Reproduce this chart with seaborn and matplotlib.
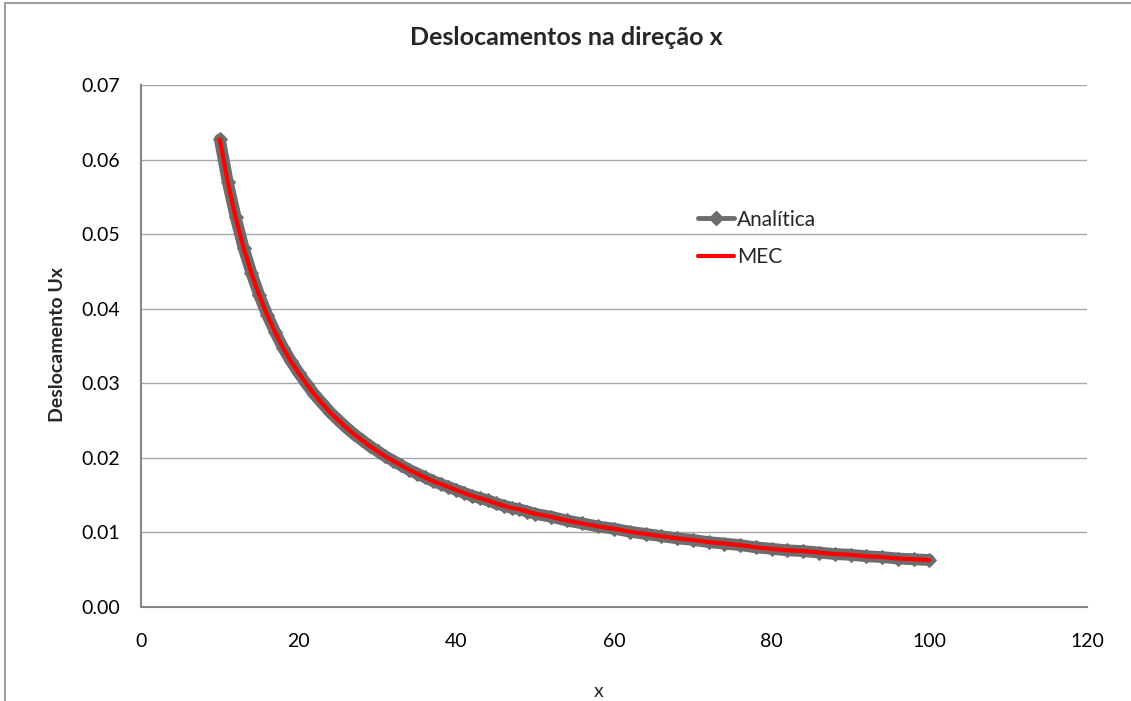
import matplotlib
matplotlib.use('Agg')
import matplotlib.pyplot as plt
import numpy as np
import pandas as pd
import seaborn as sns
from matplotlib.lines import Line2D

# displacement values
x_vals = [10, 11, 12, 13, 14, 15, 16, 17, 18, 19, 20, 21, 22, 23, 24, 25, 26, 27, 28, 29,
          30, 31, 32, 33, 34, 35, 36, 37, 38, 39, 40, 41, 42, 43, 44, 45, 46, 47, 48, 49,
          50, 52, 54, 56, 58, 60, 62, 64, 66, 68, 70, 72, 74, 76, 78, 80, 82, 84, 86, 88,
          90, 92, 94, 96, 98, 100]
analitica = [0.0627, 0.0570, 0.0523, 0.0482, 0.0448, 0.0418, 0.0392, 0.0369, 0.0348, 0.0330,
             0.0314, 0.0299, 0.0285, 0.0273, 0.0261, 0.0251, 0.0241, 0.0232, 0.0224, 0.0216,
             0.0209, 0.0202, 0.0196, 0.0190, 0.0184, 0.0179, 0.0174, 0.0169, 0.0165, 0.0161,
             0.0157, 0.0153, 0.0149, 0.0146, 0.0143, 0.0139, 0.0136, 0.0133, 0.0131, 0.0128,
             0.0125, 0.0121, 0.0116, 0.0112, 0.0108, 0.0105, 0.0101, 0.0098, 0.0095, 0.0092,
             0.0090, 0.0087, 0.0085, 0.0083, 0.0080, 0.0078, 0.0076, 0.0075, 0.0073, 0.0071,
             0.0070, 0.0068, 0.0067, 0.0065, 0.0064, 0.0063]
mec = [0.0627, 0.0570, 0.0523, 0.0482, 0.0448, 0.0418, 0.0392, 0.0369, 0.0348, 0.0330,
       0.0314, 0.0299, 0.0285, 0.0273, 0.0261, 0.0251, 0.0241, 0.0232, 0.0224, 0.0216,
       0.0209, 0.0202, 0.0196, 0.0190, 0.0184, 0.0179, 0.0174, 0.0169, 0.0165, 0.0161,
       0.0157, 0.0153, 0.0149, 0.0146, 0.0143, 0.0139, 0.0136, 0.0133, 0.0131, 0.0128,
       0.0125, 0.0121, 0.0116, 0.0112, 0.0108, 0.0105, 0.0101, 0.0098, 0.0095, 0.0092,
       0.0090, 0.0087, 0.0085, 0.0083, 0.0080, 0.0078, 0.0076, 0.0075, 0.0073, 0.0071,
       0.0070, 0.0068, 0.0067, 0.0065, 0.0064, 0.0063]
x_ticks = [0, 20, 40, 60, 80, 100, 120]
y_ticks = [0.00, 0.01, 0.02, 0.03, 0.04, 0.05, 0.06, 0.07]

df = pd.DataFrame({'x': x_vals, 'Analítica': analitica, 'MEC': mec})

sns.set_style('white')
plt.rcParams['font.family'] = ['Lato', 'DejaVu Sans']

grey = '#6d6d6d'
axis_col = '#868686'

fig = plt.figure(figsize=(11.31, 7.01), dpi=100)
ax = fig.add_axes([0.1247, 0.1341, 0.8364, 0.7446])

# thick grey band made of overlapping diamond markers
sns.lineplot(data=df, x='x', y='Analítica', ax=ax, color=grey, linewidth=8.5,
             marker='D', markersize=7.5, markeredgecolor=grey, legend=False)
sns.lineplot(data=df, x='x', y='MEC', ax=ax, color='#ff0000', linewidth=3, legend=False)

ax.set_xlim(0, 120)
ax.set_ylim(0, 0.07)
ax.set_xticks(x_ticks)
ax.set_yticks(y_ticks)
ax.set_yticklabels([f'{v:.2f}' for v in y_ticks])
ax.tick_params(axis='both', labelsize=14, colors=axis_col, labelcolor='black',
               direction='out', length=5, width=1)
ax.tick_params(axis='x', pad=14)
ax.tick_params(axis='y', pad=10)
ax.yaxis.grid(True, color='#a6a6a6', linewidth=1)
ax.set_axisbelow(True)
for side in ['top', 'right']:
    ax.spines[side].set_visible(False)
for side in ['left', 'bottom']:
    ax.spines[side].set_color(axis_col)
    ax.spines[side].set_linewidth(1.5)

ax.set_xlabel('')
ax.set_ylabel('')
fig.text(0.051, 0.508, 'Deslocamento Ux', fontsize=14, fontweight='bold',
         rotation=90, ha='center', va='center')
fig.text(0.529, 0.013, 'x', fontsize=14, ha='center', va='center')
fig.text(0.501, 0.946, 'Deslocamentos na direção x', fontsize=18, fontweight='bold',
         ha='center', va='center')

handles = [Line2D([], [], color=grey, linewidth=3.5, marker='D', markersize=7),
           Line2D([], [], color='#ff0000', linewidth=3)]
fig.legend(handles, ['Analítica', 'MEC'], loc='upper left', bbox_to_anchor=(0.610, 0.713),
           frameon=False, fontsize=15, handlelength=1.7, handletextpad=0.15, labelspacing=0.85,
           borderaxespad=0)

# chart area border (top and left edges visible)
fig.add_artist(Line2D([0.0044, 1.0], [0.9957, 0.9957], transform=fig.transFigure,
                      color='#a0a0a0', linewidth=1.5))
fig.add_artist(Line2D([0.0044, 0.0044], [0.0, 0.9957], transform=fig.transFigure,
                      color='#a0a0a0', linewidth=1.5))

fig.savefig('out.png', dpi=100)
